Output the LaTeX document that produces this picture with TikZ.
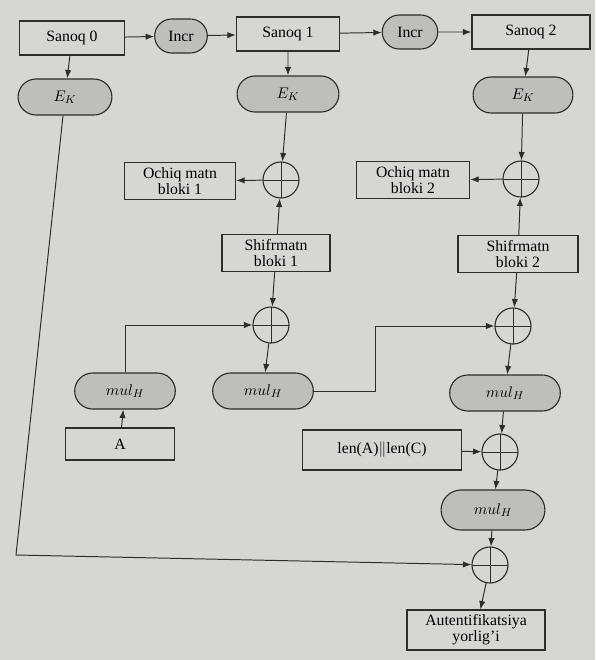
\documentclass[tikz,border=0pt]{standalone}
\usepackage{fontspec}
\setmainfont{Liberation Serif}
\usetikzlibrary{arrows.meta,shapes.misc}
\definecolor{paper}{RGB}{214,214,210}
\definecolor{pillgray}{RGB}{190,190,187}
\definecolor{ink}{RGB}{45,45,45}

\begin{document}
\begin{tikzpicture}[
  x=0.025cm, y=-0.025cm,
  box/.style={draw=ink, line width=0.8pt, minimum width=2.7cm, minimum height=0.85cm,
              align=center, inner sep=1pt, font=\fontsize{11.2}{11.5}\selectfont},
  pill/.style={draw=ink, line width=0.8pt, fill=pillgray, rounded rectangle,
               minimum width=2.75cm, minimum height=0.9cm, font=\fontsize{11.2}{12}\selectfont},
  xor/.style={draw=ink, line width=0.8pt, circle, minimum size=0.9cm, inner sep=0pt,
              path picture={\draw[ink, line width=0.7pt]
                (path picture bounding box.north) -- (path picture bounding box.south)
                (path picture bounding box.west) -- (path picture bounding box.east);}},
  arr/.style={draw=ink, line width=0.7pt, -{Latex[length=6pt,width=4.5pt]}},
]
  \useasboundingbox[fill=paper] (0,0) rectangle (595,660);
  % counters, top row
  \node[box, minimum width=2.63cm] (san0) at (72,38) {Sanoq 0};
  \node[pill, minimum width=1.55cm, minimum height=0.85cm] (inc1) at (181,36) {Incr};
  \node[box, minimum width=2.58cm] (san1) at (288,34) {Sanoq 1};
  \node[pill, minimum width=1.62cm, minimum height=0.85cm] (inc2) at (410,32) {Incr};
  \node[box, minimum width=2.95cm] (san2) at (531,32) {Sanoq 2};
  % block cipher
  \node[pill, minimum width=2.58cm] (ek0) at (65,97) {$E_K$};
  \node[pill, minimum width=2.78cm] (ek1) at (288,94) {$E_K$};
  \node[pill, minimum width=2.73cm] (ek2) at (523,95) {$E_K$};
  % decryption
  \node[xor] (x1) at (281,180) {};
  \node[box, minimum width=2.78cm, minimum height=0.93cm] (och1) at (180,181) {Ochiq matn\\bloki 1};
  \node[xor] (x2) at (521,179) {};
  \node[box, minimum width=2.83cm, minimum height=0.93cm] (och2) at (413,180) {Ochiq matn\\bloki 2};
  \node[box, minimum width=2.7cm, minimum height=0.93cm] (shf1) at (276,253) {Shifrmatn\\bloki 1};
  \node[box, minimum width=3cm, minimum height=0.93cm] (shf2) at (518,254) {Shifrmatn\\bloki 2};
  % authentication chain
  \node[xor] (x3) at (271,325) {};
  \node[xor] (x4) at (513,326) {};
  \node[pill] (mha) at (125,391) {$mul_H$};
  \node[pill] (mhb) at (263,391) {$mul_H$};
  \node[pill, minimum width=3cm] (mhc) at (505,393) {$mul_H$};
  \node[box, minimum width=2.73cm, minimum height=0.8cm] (ina) at (120,444) {A};
  \node[box, minimum width=3.98cm, minimum height=1cm] (len) at (382,450) {len(A)$\|$len(C)};
  \node[xor] (x5) at (500,452) {};
  \node[pill, minimum width=2.83cm, minimum height=1cm] (mhd) at (493,510) {$mul_H$};
  \node[xor] (x6) at (490,565) {};
  \node[box, minimum width=3.45cm, minimum height=1cm] (tag) at (476,630) {Autentifikatsiya\\yorlig'i};
  \coordinate (bend) at (16,555);
  % connectors
  \draw[arr] (san0) -- (inc1);
  \draw[arr] (inc1) -- (san1);
  \draw[arr] (san1) -- (inc2);
  \draw[arr] (inc2) -- (san2);
  \draw[arr] (san0) -- (ek0);
  \draw[arr] (san1) -- (ek1);
  \draw[arr] (san2) -- (ek2);
  \draw[arr] (ek1) -- (x1);
  \draw[arr] (ek2) -- (x2);
  \draw[arr] (x1) -- (och1);
  \draw[arr] (x2) -- (och2);
  \draw[arr] (shf1) -- (x1);
  \draw[arr] (shf2) -- (x2);
  \draw[arr] (shf1) -- (x3);
  \draw[arr] (shf2) -- (x4);
  \draw[arr] (ina) -- (mha);
  \draw[arr] (mha.north) |- (x3);
  \draw[arr] (x3) -- (mhb);
  \draw[arr] (mhb.east) -- ++(62,0) |- (x4);
  \draw[arr] (x4) -- (mhc);
  \draw[arr] (mhc) -- (x5);
  \draw[arr] (len) -- (x5);
  \draw[arr] (x5) -- (mhd);
  \draw[arr] (mhd) -- (x6);
  \draw[arr] (x6) -- (tag);
  \draw[arr] (ek0) -- (bend) -- (x6);
\end{tikzpicture}
\end{document}
